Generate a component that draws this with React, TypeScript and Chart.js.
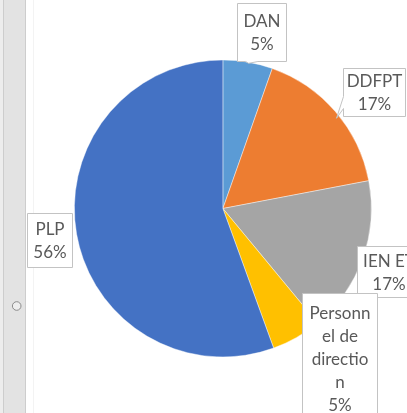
import React, { useEffect, useRef } from "react";
import { Chart, registerables } from "chart.js";

Chart.register(...registerables);

// ---- data ----
const categories = ["DAN", "DDFPT", "IEN ET", "Personnel de direction", "PLP"];
const labelLines = [["DAN"], ["DDFPT"], ["IEN ET"], ["Personn", "el de", "directio", "n"], ["PLP"]];
const values = [5.4, 16.6, 17.0, 5.45, 55.55];
const colors = ["#5B9BD5", "#ED7D31", "#A5A5A5", "#FFC000", "#4472C4"];

// ---- callout layout (offsets relative to the slice's outer mid-point) ----
const LABEL_LAYOUT = [
  { dx: 13.9, dy: -30.1, w: 49, h: 58, tip: { dx: 0.7, dy: 1.2 } },
  { dx: 38.75, dy: -19.2, w: 62.3, h: 48.4, tip: { dx: 1, dy: 6.6 } },
  { dx: 25.8, dy: 12.55, w: 62.6, h: 50.7, tip: null },
  { dx: 42.9, dy: 20.6, w: 75, h: 130, tip: null },
  { dx: -26.9, dy: 5.74, w: 45.3, h: 54, tip: null },
];

const FONT = "17px Lato";
const TEXT_COLOR = "#595959";
const BOX_BORDER = "#c3c3c3";
const LINE_H = 23;

function calloutPath(ctx: CanvasRenderingContext2D, l: number, t: number, w: number, h: number, tip: { x: number; y: number } | null) {
  const r = l + w, b = t + h;
  ctx.beginPath();
  if (!tip || (tip.x > l && tip.x < r && tip.y > t && tip.y < b)) {
    ctx.rect(l, t, w, h);
    return;
  }
  const hc = l + w / 2, vc = t + h / 2;
  const dxPos = tip.x - hc, dyPos = tip.y - vc;
  const dq = (dxPos * h) / w;
  const dz = Math.abs(dyPos) - Math.abs(dq);
  const x1 = l + (w * (dxPos > 0 ? 7 : 2)) / 12, x2 = l + (w * (dxPos > 0 ? 10 : 5)) / 12;
  const y1 = t + (h * (dyPos > 0 ? 7 : 2)) / 12, y2 = t + (h * (dyPos > 0 ? 10 : 5)) / 12;
  ctx.moveTo(l, t);
  if (dz > 0 && dyPos < 0) { ctx.lineTo(x1, t); ctx.lineTo(tip.x, tip.y); ctx.lineTo(x2, t); }
  ctx.lineTo(r, t);
  if (dz <= 0 && dxPos > 0) { ctx.lineTo(r, y1); ctx.lineTo(tip.x, tip.y); ctx.lineTo(r, y2); }
  ctx.lineTo(r, b);
  if (dz > 0 && dyPos > 0) { ctx.lineTo(x2, b); ctx.lineTo(tip.x, tip.y); ctx.lineTo(x1, b); }
  ctx.lineTo(l, b);
  if (dz <= 0 && dxPos < 0) { ctx.lineTo(l, y2); ctx.lineTo(tip.x, tip.y); ctx.lineTo(l, y1); }
  ctx.closePath();
}

const frameplugin = {
  id: "frame",
  beforeDraw(chart: any) {
    const ctx: CanvasRenderingContext2D = chart.ctx;
    const H = chart.height;
    ctx.save();
    ctx.fillStyle = "#ededed";
    ctx.fillRect(0, 0, 3, H);
    ctx.fillStyle = "#e3e3e3";
    ctx.fillRect(3, 0, 22, H);
    ctx.strokeStyle = "#cdcdcd";
    ctx.lineWidth = 1;
    ctx.beginPath();
    ctx.moveTo(3.5, 0); ctx.lineTo(3.5, H);
    ctx.moveTo(25.5, 0); ctx.lineTo(25.5, H);
    ctx.stroke();
    ctx.strokeStyle = "#f3f3f3";
    ctx.beginPath();
    ctx.moveTo(33.5, 0); ctx.lineTo(33.5, H);
    ctx.stroke();
    // handle circle
    ctx.beginPath();
    ctx.arc(16.7, 306, 4.3, 0, Math.PI * 2);
    ctx.fillStyle = "#eeeeee";
    ctx.fill();
    ctx.strokeStyle = "#8c8c8c";
    ctx.stroke();
    ctx.restore();
  },
};

const calloutPlugin = {
  id: "callouts",
  afterDraw(chart: any) {
    const ctx: CanvasRenderingContext2D = chart.ctx;
    const meta = chart.getDatasetMeta(0);
    const data: number[] = chart.data.datasets[0].data;
    const total = data.reduce((a, b) => a + b, 0);
    ctx.save();
    meta.data.forEach((arc: any, i: number) => {
      const p = arc.getProps(["x", "y", "startAngle", "endAngle", "outerRadius"], true);
      const mid = (p.startAngle + p.endAngle) / 2;
      const ax = p.x + Math.cos(mid) * p.outerRadius;
      const ay = p.y + Math.sin(mid) * p.outerRadius;
      const L = LABEL_LAYOUT[i];
      const cx = ax + L.dx, cy = ay + L.dy;
      const l = Math.round(cx - L.w / 2) + 0.5;
      const t = Math.round(cy - L.h / 2) + 0.5;
      const w = Math.round(L.w), h = Math.round(L.h);
      const tip = L.tip ? { x: ax + L.tip.dx, y: ay + L.tip.dy } : null;
      calloutPath(ctx, l, t, w, h, tip);
      ctx.fillStyle = "#ffffff";
      ctx.fill();
      ctx.strokeStyle = BOX_BORDER;
      ctx.lineWidth = 1;
      ctx.stroke();
      const lines = [...labelLines[i], Math.round((data[i] / total) * 100) + "%"];
      ctx.font = FONT;
      ctx.fillStyle = TEXT_COLOR;
      ctx.textAlign = "center";
      ctx.textBaseline = "alphabetic";
      const n = lines.length;
      const bx = l + w / 2, by = t + h / 2;
      lines.forEach((s, k) => {
        ctx.fillText(s, bx, by + (k - (n - 1) / 2) * LINE_H + 6);
      });
    });
    ctx.restore();
  },
};

export default function App() {
  const ref = useRef<HTMLCanvasElement | null>(null);
  useEffect(() => {
    document.body.style.margin = "0";
    const canvas = ref.current;
    if (!canvas) return;
    const chart = new Chart(canvas, {
      type: "pie",
      data: {
        labels: categories,
        datasets: [
          {
            data: values,
            backgroundColor: colors,
            borderColor: "rgba(255,255,255,0.55)",
            borderWidth: 0.75,
          },
        ],
      },
      options: {
        responsive: false,
        animation: false,
        devicePixelRatio: 1,
        layout: { padding: { left: 74, right: 35.25, top: 59.6, bottom: 55.6 } },
        plugins: {
          legend: { display: false },
          tooltip: { enabled: false },
        },
      },
      plugins: [frameplugin, calloutPlugin],
    });
    return () => chart.destroy();
  }, []);
  return (
    <div style={{ width: 407, height: 413, background: "#ffffff" }}>
      <canvas ref={ref} width={407} height={413} style={{ display: "block" }} />
    </div>
  );
}
